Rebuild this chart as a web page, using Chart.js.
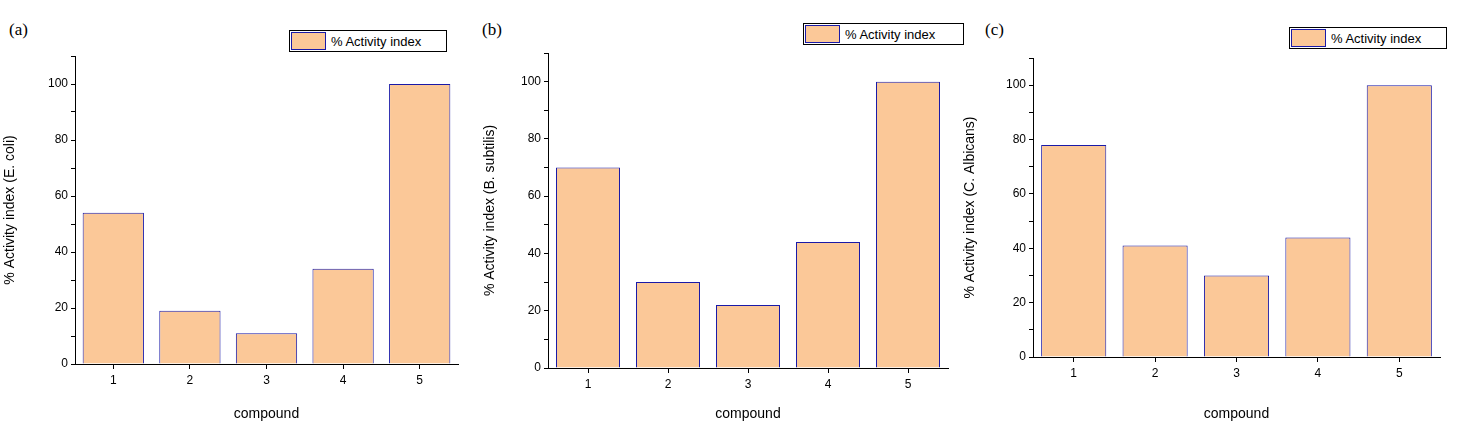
<!DOCTYPE html>
<html>
<head>
<script src="https://cdn.jsdelivr.net/npm/chart.js@4"></script>
<style>
body { margin: 0; background: #fff; width: 1459px; height: 425px; position: relative; overflow: hidden; font-family: "Liberation Sans", Arial, sans-serif; }
.cv { position: absolute; top: 0; height: 425px; }
.tag { position: absolute; font-family: "Liberation Serif", serif; font-size: 17px; }
.leg { position: absolute; border: 1px solid #000; height: 20px; font-size: 13px; display: flex; align-items: center; background: #fff; }
.sw { width: 33px; height: 16px; background: #FBC898; border: 1px solid #1a1aa8; margin: 0 5px 0 1px; }
</style>
</head>
<body>
<div class="tag" style="left:9px;top:20px">(a)</div>
<div class="tag" style="left:482px;top:20px">(b)</div>
<div class="tag" style="left:985px;top:20px">(c)</div>
<div class="leg" style="left:289px;top:30px;width:156px"><div class="sw"></div>% Activity index</div>
<div class="leg" style="left:803px;top:23px;width:159px"><div class="sw"></div>% Activity index</div>
<div class="leg" style="left:1289px;top:27px;width:156px"><div class="sw"></div>% Activity index</div>
<div class="cv" style="left:0;width:480px"><canvas id="ca"></canvas></div>
<div class="cv" style="left:480px;width:480px"><canvas id="cb"></canvas></div>
<div class="cv" style="left:960px;width:499px"><canvas id="cc"></canvas></div>
<script>
const compounds = ['1', '2', '3', '4', '5'];
const ecoli = [54, 19, 11, 34, 100];
const bsubtilis = [70, 30, 22, 44, 100];
const calbicans = [78, 41, 30, 44, 100];

Chart.defaults.font.family = '"Liberation Sans", Arial, sans-serif';
Chart.defaults.color = '#000';

function makeChart(id, values, yTitle, yW, xH, top, right) {
    new Chart(document.getElementById(id), {
        type: 'bar',
        data: {
            labels: compounds,
            datasets: [{
                label: '% Activity index',
                data: values,
                backgroundColor: '#FBC898',
                borderColor: '#1a1aa8',
                borderWidth: 1,
                barPercentage: 0.8,
                categoryPercentage: 1
            }]
        },
        options: {
            responsive: true,
            maintainAspectRatio: false,
            animation: false,
            layout: { padding: { top: top, right: right, left: 0, bottom: 0 } },
            plugins: { legend: { display: false }, tooltip: { enabled: false } },
            scales: {
                x: {
                    afterFit: s => { s.height = xH; },
                    grid: { display: true, drawOnChartArea: false, offset: false, tickLength: 5, color: '#000' },
                    border: { display: true, color: '#000' },
                    ticks: { font: { size: 12 }, padding: 4 },
                    title: { display: true, text: 'compound', font: { size: 14 }, padding: 2 }
                },
                y: {
                    min: 0, max: 110,
                    afterFit: s => { s.width = yW; },
                    grid: { display: true, drawOnChartArea: false, tickLength: 4, color: '#000' },
                    border: { display: true, color: '#000' },
                    ticks: { stepSize: 10, font: { size: 12 }, padding: 3, callback: v => v % 20 === 0 ? v : '' },
                    title: { display: true, text: yTitle, font: { size: 14 }, padding: 2 }
                }
            }
        }
    });
}

makeChart('ca', ecoli, '% Activity index (E. coli)', 75, 61, 56, 22);
makeChart('cb', bsubtilis, '% Activity index (B. subtilis)', 68, 57, 53, 12);
makeChart('cc', calbicans, '% Activity index (C. Albicans)', 73, 68, 58, 19);
</script>
</body>
</html>
